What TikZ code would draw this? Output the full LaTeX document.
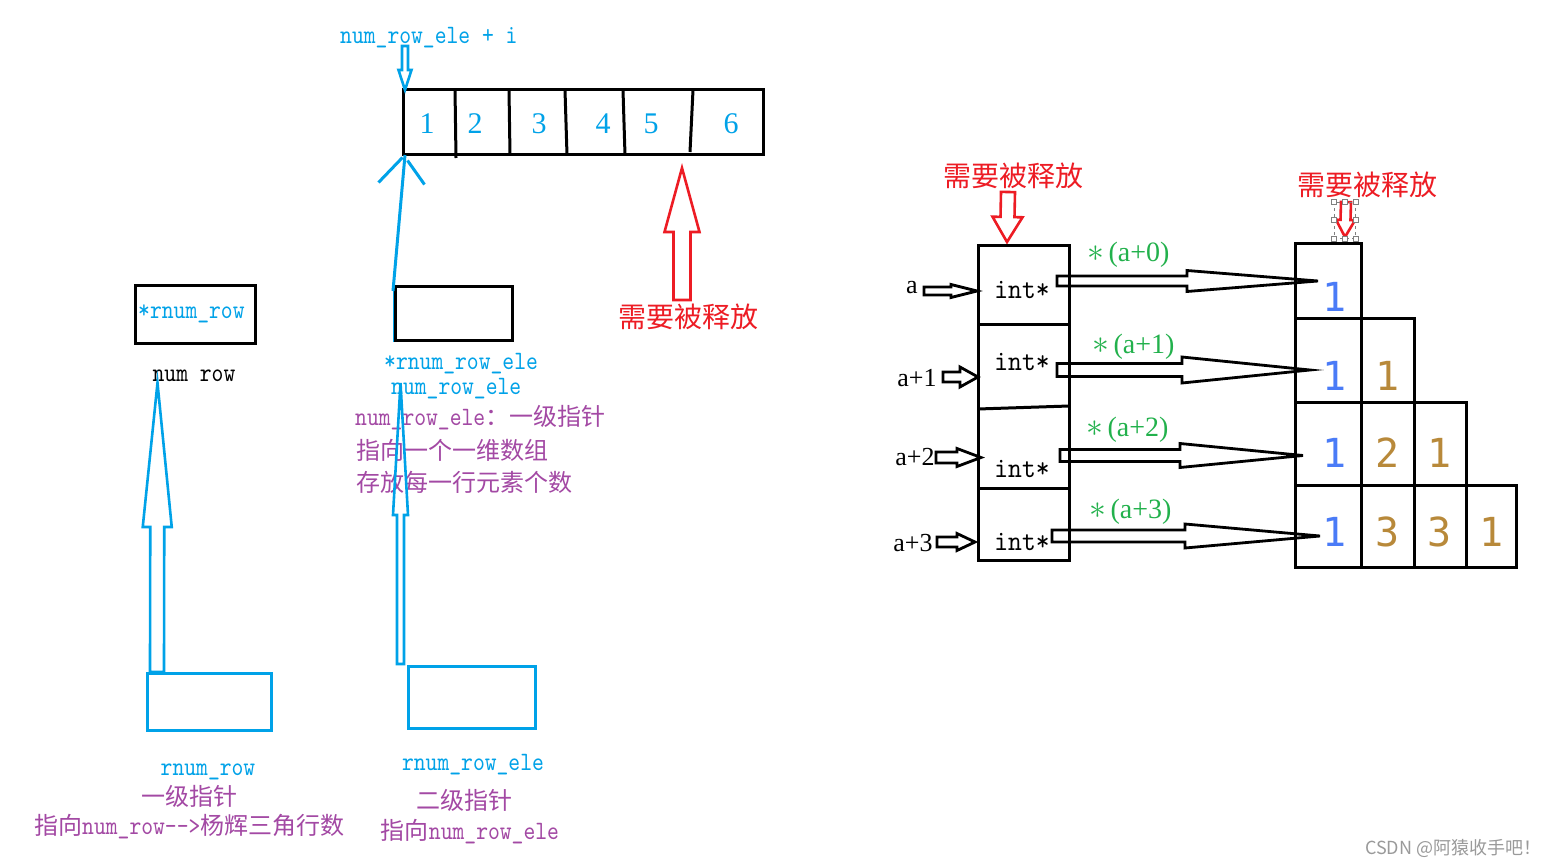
\documentclass[tikz,border=0pt]{standalone}
\usepackage{graphicx}
\usepackage{fontspec}
\newfontfamily\cjk{Noto Sans CJK SC}
\newfontfamily\lser{Liberation Serif}
\newfontfamily\dmono{DejaVu Sans Mono}
\newfontfamily\mt[FakeStretch=0.85]{lmmono10-regular.otf}
\newfontfamily\mtw[FakeStretch=0.92]{lmmono10-regular.otf}
\usetikzlibrary{calc}
\definecolor{cblue}{HTML}{00A2E8}
\definecolor{cpurp}{HTML}{A349A4}
\definecolor{cred}{HTML}{ED1C24}
\definecolor{cgreen}{HTML}{22B14C}
\definecolor{cgold}{HTML}{B8893A}
\definecolor{cnum}{HTML}{4A7BF7}
\definecolor{cgray}{HTML}{9A9A9A}
\newcommand\fs[1]{\fontsize{#1}{#1}\selectfont}
\newcommand\zh[1]{{\cjk\fs{24}#1}}
\newcommand\gast{\scalebox{1.35}{$\ast$}}
\makeatletter
% block arrow: style, start, end, half shaft, half head, head length
\newcommand\barrow[6]{%
  \path let \p1=($(#3)-(#2)$) in \pgfextra{%
    \pgfmathparse{atan2(\y1,\x1)}\xdef\ba@ang{\pgfmathresult}%
    \pgfmathparse{veclen(\x1,\y1)}\xdef\ba@len{\pgfmathresult}};
  \draw[#1,shift={(#2)},rotate=\ba@ang] (0,-#4) -- ({\ba@len-#6},-#4) -- ({\ba@len-#6},-#5) -- (\ba@len,0) -- ({\ba@len-#6},#5) -- ({\ba@len-#6},#4) -- (0,#4) -- cycle;
}
\makeatother
\tikzset{
  bk/.style={draw=black,line width=3pt},
  blbox/.style={draw=cblue,line width=3pt},
  bluearr/.style={draw=cblue,line width=2.6pt,line join=miter},
  redarr/.style={draw=cred,line width=2.6pt,line join=miter},
  blackarr/.style={draw=black,line width=2.8pt,line join=miter},
  btxt/.style={inner sep=0pt,font=\mt\fs{26.5},text=cblue},
  ptxt/.style={inner sep=0pt,font=\mt\fs{26.5},text=cpurp},
  ktxt/.style={inner sep=0pt,font=\mt\fs{26.5},text=black},
  rtxt/.style={inner sep=0pt,font=\cjk\fs{28},text=cred},
  inttxt/.style={inner sep=0pt,font=\mtw\fs{28.5},text=black},
  atxt/.style={inner sep=0pt,font=\lser\fs{26},text=black},
  gtxt/.style={inner sep=0pt,font=\lser\fs{28},text=cgreen},
  anum/.style={inner sep=0pt,font=\lser\fs{30},text=cblue},
  tnum/.style={inner sep=0pt,font=\dmono\fs{40}},
  handle/.style={draw=gray,line width=0.8pt,fill=white,minimum size=5pt,inner sep=0pt},
}
\begin{document}
\begin{tikzpicture}[x=1pt,y=-1pt]
\useasboundingbox[fill=white] (0,0) rectangle (1564,867);

% ---------- top array ----------
\node[btxt,anchor=west] (topl) at (340,38) {num\_row\_ele + i};
\node[bk,minimum width=360pt,minimum height=64pt,inner sep=0pt] (arr) at (583,122) {};
\draw[bk] (455,89) -- (456,158);
\draw[bk] (509,90) -- (510,155);
\draw[bk] (565,90) -- (567,155);
\draw[bk] (623,90) -- (625,155);
\draw[bk] (693,90) -- (690,152);
\node[anum] (n1) at (427,124) {1};
\node[anum] (n2) at (475,124) {2};
\node[anum] (n3) at (539,124) {3};
\node[anum] (n4) at (603,124) {4};
\node[anum] (n5) at (651,124) {5};
\node[anum] (n6) at (731,124) {6};
\coordinate (ta0) at (405,46);
\coordinate (ta1) at (405,90);
\barrow{bluearr}{ta0}{ta1}{3}{6.5}{20}

% red up arrow + label
\node[rtxt] (rel1) at (688,317) {需要被释放};
\coordinate (ru0) at (682,300);
\coordinate (ru1) at (682,168);
\barrow{redarr}{ru0}{ru1}{8.5}{17.5}{64}

% ---------- left column ----------
\node[bk,minimum width=120pt,minimum height=58pt,inner sep=0pt] (boxA) at (195,314) {};
\node[btxt,anchor=west] (boxAt) at (138,314) {*rnum\_row};
\node[ktxt] (numrow) at (194,376) {num row};
\node[blbox,minimum width=124pt,minimum height=57pt,inner sep=0pt] (boxAb) at (209,701.5) {};
\coordinate (la0) at (157,672);
\coordinate (la1) at (157.5,383);
\barrow{bluearr}{la0}{la1}{7}{14.5}{144}
\node[btxt] (lb1) at (208,772) {rnum\_row};
\node[ptxt] (lb2) at (189,796) {\zh{一级指针}};
\node[ptxt,anchor=west] (lb3) at (34,827) {\zh{指向}num\_row-{}->\zh{杨辉三角行数}};

% ---------- middle column ----------
\draw[cblue,line width=2pt] (394,287) -- (394,341) -- (513,341) -- (513,328);
\node[bk,minimum width=117pt,minimum height=54pt,inner sep=0pt] (boxB) at (453.5,313) {};
\draw[cblue,line width=3pt] (393,291) -- (405,155);
\draw[cblue,line width=3pt] ($(arr.south west)+(-23,27)$) -- ($(arr.south west)+(1,2)$);
\draw[cblue,line width=3pt] ($(arr.south west)+(6,5)$) -- ($(arr.south west)+(23,29)$);
\node[btxt,anchor=west] (mt1) at (384,364) {*rnum\_row\_ele};
\node[btxt,anchor=west] (mt2) at (391,389) {num\_row\_ele};
\node[ptxt,anchor=west] (mt3) at (355,418) {num\_row\_ele\zh{：一级指针}};
\node[ptxt,anchor=west] (mt4) at (356,450) {\zh{指向一个一维数组}};
\node[ptxt,anchor=west] (mt5) at (356,482) {\zh{存放每一行元素个数}};
\node[blbox,minimum width=127pt,minimum height=62pt,inner sep=0pt] (boxBb) at (471.5,697) {};
\coordinate (ma0) at (400.5,664);
\coordinate (ma1) at (400.5,383);
\barrow{bluearr}{ma0}{ma1}{3.5}{7.5}{132}
\node[btxt] (mb1) at (473,765) {rnum\_row\_ele};
\node[ptxt] (mb2) at (464,800) {\zh{二级指针}};
\node[ptxt] (mb3) at (470,832) {\zh{指向}num\_row\_ele};

% ---------- right: pointer column ----------
\node[rtxt] (rel2) at (1013,176) {需要被释放};
\coordinate (rd0) at (1008,192);
\coordinate (rd1) at (1007,242);
\barrow{redarr}{rd0}{rd1}{7}{15}{25}
\node[bk,minimum width=91pt,minimum height=315pt,inner sep=0pt] (col) at (1023.5,402.5) {};
\draw[bk] (978,324) -- (1069,324);
\draw[bk] (978,409) -- (1069,406);
\draw[bk] (978,488) -- (1069,488);
\node[inttxt] (p0) at (1022,290) {int*};
\node[inttxt] (p1) at (1022,362) {int*};
\node[inttxt] (p2) at (1022,469) {int*};
\node[inttxt] (p3) at (1022,542) {int*};
\node[atxt] (a0) at (912,288) {a};
\node[atxt] (a1) at (917,378) {a+1};
\node[atxt] (a2) at (915,457) {a+2};
\node[atxt] (a3) at (913,543) {a+3};
\coordinate (s0) at (924,291);  \coordinate (e0) at (977,291);
\coordinate (s1) at (943,377);  \coordinate (e1) at (978,377);
\coordinate (s2) at (936,457.5);\coordinate (e2) at (981,457.5);
\coordinate (s3) at (937,542);  \coordinate (e3) at (975,542);
\barrow{blackarr}{s0}{e0}{4}{6.5}{26}
\barrow{blackarr}{s1}{e1}{5}{10}{18}
\barrow{blackarr}{s2}{e2}{5.5}{9}{24}
\barrow{blackarr}{s3}{e3}{5}{8.5}{18}

% green labels
\node[gtxt,anchor=west] (g0) at (1087,255) {\gast\,(a+0)};
\node[gtxt,anchor=west] (g1) at (1092,347) {\gast\,(a+1)};
\node[gtxt,anchor=west] (g2) at (1086,430) {\gast\,(a+2)};
\node[gtxt,anchor=west] (g3) at (1089,512) {\gast\,(a+3)};

% ---------- triangle ----------
\node[bk,minimum width=66pt,minimum height=75pt,inner sep=0pt] (c00) at (1328,280.5) {};
\node[bk,minimum width=66pt,minimum height=84pt,inner sep=0pt] (c10) at (1328,360) {};
\node[bk,minimum width=53pt,minimum height=84pt,inner sep=0pt] (c11) at (1387.5,360) {};
\node[bk,minimum width=66pt,minimum height=83pt,inner sep=0pt] (c20) at (1328,443.5) {};
\node[bk,minimum width=53pt,minimum height=83pt,inner sep=0pt] (c21) at (1387.5,443.5) {};
\node[bk,minimum width=52pt,minimum height=83pt,inner sep=0pt] (c22) at (1440,443.5) {};
\node[bk,minimum width=66pt,minimum height=82pt,inner sep=0pt] (c30) at (1328,526) {};
\node[bk,minimum width=53pt,minimum height=82pt,inner sep=0pt] (c31) at (1387.5,526) {};
\node[bk,minimum width=52pt,minimum height=82pt,inner sep=0pt] (c32) at (1440,526) {};
\node[bk,minimum width=50pt,minimum height=82pt,inner sep=0pt] (c33) at (1491,526) {};
\node[tnum,text=cnum] (d00) at (1335,297) {1};
\node[tnum,text=cnum] (d10) at (1335,376) {1};
\node[tnum,text=cgold] (d11) at (1388,376) {1};
\node[tnum,text=cnum] (d20) at (1335,453) {1};
\node[tnum,text=cgold] (d21) at (1388,453) {2};
\node[tnum,text=cgold] (d22) at (1440,453) {1};
\node[tnum,text=cnum] (d30) at (1335,532) {1};
\node[tnum,text=cgold] (d31) at (1388,532) {3};
\node[tnum,text=cgold] (d32) at (1440,532) {3};
\node[tnum,text=cgold] (d33) at (1492,532) {1};

% big arrows into triangle
\coordinate (b0s) at (1057,281); \coordinate (b0e) at (1318,281);
\coordinate (b1s) at (1057,370); \coordinate (b1e) at (1310,370);
\coordinate (b2s) at (1060,455.5); \coordinate (b2e) at (1303,455.5);
\coordinate (b3s) at (1052,536); \coordinate (b3e) at (1320,536);
\barrow{blackarr}{b0s}{b0e}{5}{10.5}{131}
\barrow{blackarr}{b1s}{b1e}{6.5}{13}{128}
\barrow{blackarr}{b2s}{b2e}{6}{12}{123}
\barrow{blackarr}{b3s}{b3e}{6}{12}{135}

% second red label + small arrow with selection frame
\node[rtxt] (rel3) at (1367,185) {需要被释放};
\coordinate (sr0) at (1346,202);
\coordinate (sr1) at (1345,237);
\barrow{redarr}{sr0}{sr1}{5}{9.5}{17}
\node[draw=gray,dashed,line width=0.8pt,minimum width=21pt,minimum height=36pt,inner sep=0pt] (sel) at (1344.5,220) {};
\foreach \a in {north west,north,north east,west,east,south west,south,south east}
  \node[handle] at (sel.\a) {};

% watermark
\node[font=\cjk\fs{18},text=cgray,anchor=west,inner sep=0pt] (wm) at (1365,848) {CSDN @阿猿收手吧！};
\end{tikzpicture}
\end{document}
